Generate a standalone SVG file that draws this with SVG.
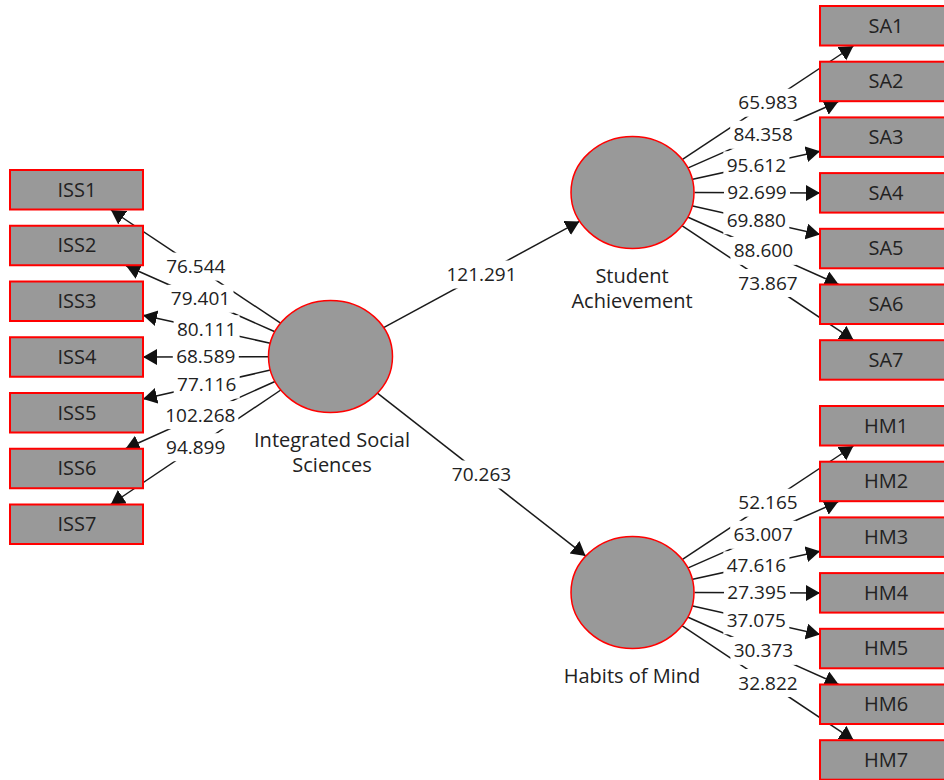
<svg xmlns="http://www.w3.org/2000/svg" width="944" height="780" viewBox="0 0 944 780">
<defs>
<marker id="arr" markerUnits="userSpaceOnUse" markerWidth="15" markerHeight="17" refX="14" refY="8" orient="auto">
<path d="M0,0 L14,8 L0,16 z" fill="#111"/>
</marker>
<style>
.c line{stroke:#1a1a1a;stroke-width:1.5;marker-end:url(#arr)}
.box{fill:#999;stroke:#f00;stroke-width:2}
.lv{fill:#999;stroke:#f00;stroke-width:1.5}
text{font-family:"Open Sans","Noto Sans","Liberation Sans",sans-serif;font-size:19px;fill:#222;text-anchor:middle}
.n{font-size:20px}
.lb rect{fill:#fff}
</style>
</defs>
<rect width="944" height="780" fill="#fff"/>
<g id="connectors" class="c">
<line x1="383.6" y1="327.6" x2="579.4" y2="221.4"/>
<line x1="377.4" y1="393.1" x2="585.6" y2="555.9"/>
<line x1="280.6" y1="323.2" x2="111" y2="210"/>
<line x1="274.9" y1="331.8" x2="126.1" y2="265.75"/>
<line x1="270.3" y1="343.2" x2="143" y2="315.2"/>
<line x1="268.5" y1="356.7" x2="143" y2="357.1"/>
<line x1="270.4" y1="370.1" x2="143" y2="399"/>
<line x1="275" y1="381.5" x2="125.5" y2="448.75"/>
<line x1="280.8" y1="390" x2="110.7" y2="504.5"/>
<line x1="682.5" y1="159.4" x2="853.4" y2="46"/>
<line x1="688.2" y1="167.9" x2="838.2" y2="101.7"/>
<line x1="692.7" y1="179.3" x2="820" y2="151.3"/>
<line x1="694.5" y1="192.5" x2="820" y2="193.1"/>
<line x1="692.7" y1="206" x2="820" y2="234.6"/>
<line x1="688.1" y1="217.3" x2="838.7" y2="284.5"/>
<line x1="682.3" y1="225.8" x2="853.6" y2="340.2"/>
<line x1="682.5" y1="559.4" x2="853.4" y2="446"/>
<line x1="688.2" y1="567.9" x2="838.2" y2="501.7"/>
<line x1="692.7" y1="579.3" x2="820" y2="551.3"/>
<line x1="694.5" y1="592.5" x2="820" y2="593.1"/>
<line x1="692.7" y1="606" x2="820" y2="634.6"/>
<line x1="688.1" y1="617.3" x2="838.7" y2="684.5"/>
<line x1="682.3" y1="625.8" x2="853.6" y2="740.2"/>
</g>
<g id="ISS"><ellipse class="lv" cx="330.5" cy="356.5" rx="62" ry="56"/><text class="n" x="332" y="447">Integrated Social</text><text class="n" x="332" y="472">Sciences</text></g>
<g id="SA"><ellipse class="lv" cx="632.5" cy="192.5" rx="61.5" ry="56"/><text class="n" x="632" y="283">Student</text><text class="n" x="632" y="308">Achievement</text></g>
<g id="HM"><ellipse class="lv" cx="632.5" cy="592.5" rx="61.5" ry="56"/><text class="n" x="632" y="683">Habits of Mind</text></g>
<g id="ISS1"><rect class="box" x="10" y="170" width="133" height="39.5"/><text class="n" x="77" y="196.5">ISS1</text></g>
<g id="ISS2"><rect class="box" x="10" y="225.75" width="133" height="39.5"/><text class="n" x="77" y="252.25">ISS2</text></g>
<g id="ISS3"><rect class="box" x="10" y="281.5" width="133" height="39.5"/><text class="n" x="77" y="308">ISS3</text></g>
<g id="ISS4"><rect class="box" x="10" y="337.25" width="133" height="39.5"/><text class="n" x="77" y="363.75">ISS4</text></g>
<g id="ISS5"><rect class="box" x="10" y="393" width="133" height="39.5"/><text class="n" x="77" y="419.5">ISS5</text></g>
<g id="ISS6"><rect class="box" x="10" y="448.75" width="133" height="39.5"/><text class="n" x="77" y="475.25">ISS6</text></g>
<g id="ISS7"><rect class="box" x="10" y="504.5" width="133" height="39.5"/><text class="n" x="77" y="531">ISS7</text></g>
<g id="SA1"><rect class="box" x="820" y="6" width="133" height="39.5"/><text class="n" x="886" y="32.5">SA1</text></g>
<g id="SA2"><rect class="box" x="820" y="61.7" width="133" height="39.5"/><text class="n" x="886" y="88.2">SA2</text></g>
<g id="SA3"><rect class="box" x="820" y="117.4" width="133" height="39.5"/><text class="n" x="886" y="143.9">SA3</text></g>
<g id="SA4"><rect class="box" x="820" y="173.1" width="133" height="39.5"/><text class="n" x="886" y="199.6">SA4</text></g>
<g id="SA5"><rect class="box" x="820" y="228.8" width="133" height="39.5"/><text class="n" x="886" y="255.3">SA5</text></g>
<g id="SA6"><rect class="box" x="820" y="284.5" width="133" height="39.5"/><text class="n" x="886" y="311">SA6</text></g>
<g id="SA7"><rect class="box" x="820" y="340.2" width="133" height="39.5"/><text class="n" x="886" y="366.7">SA7</text></g>
<g id="HM1"><rect class="box" x="820" y="406" width="133" height="39.5"/><text class="n" x="886" y="432.5">HM1</text></g>
<g id="HM2"><rect class="box" x="820" y="461.7" width="133" height="39.5"/><text class="n" x="886" y="488.2">HM2</text></g>
<g id="HM3"><rect class="box" x="820" y="517.4" width="133" height="39.5"/><text class="n" x="886" y="543.9">HM3</text></g>
<g id="HM4"><rect class="box" x="820" y="573.1" width="133" height="39.5"/><text class="n" x="886" y="599.6">HM4</text></g>
<g id="HM5"><rect class="box" x="820" y="628.8" width="133" height="39.5"/><text class="n" x="886" y="655.3">HM5</text></g>
<g id="HM6"><rect class="box" x="820" y="684.5" width="133" height="39.5"/><text class="n" x="886" y="711">HM6</text></g>
<g id="HM7"><rect class="box" x="820" y="740.2" width="133" height="39.5"/><text class="n" x="886" y="766.7">HM7</text></g>
<g id="edge-labels" class="lb">
<rect x="443.5" y="260.5" width="76" height="28"/><text x="481.5" y="281">121.291</text>
<rect x="448.5" y="460.5" width="66" height="28"/><text x="481.5" y="481">70.263</text>
<rect x="162.8" y="252.6" width="66" height="28"/><text x="195.8" y="273.1">76.544</text>
<rect x="167.5" y="284.8" width="66" height="28"/><text x="200.5" y="305.3">79.401</text>
<rect x="173.6" y="315.2" width="66" height="28"/><text x="206.6" y="335.7">80.111</text>
<rect x="172.8" y="342.9" width="66" height="28"/><text x="205.8" y="363.4">68.589</text>
<rect x="173.7" y="370.6" width="66" height="28"/><text x="206.7" y="391.1">77.116</text>
<rect x="162.3" y="401.1" width="76" height="28"/><text x="200.3" y="421.6">102.268</text>
<rect x="162.7" y="433.2" width="66" height="28"/><text x="195.7" y="453.7">94.899</text>
<rect x="735" y="88.7" width="66" height="28"/><text x="768" y="109.2">65.983</text>
<rect x="730.2" y="120.8" width="66" height="28"/><text x="763.2" y="141.3">84.358</text>
<rect x="723.4" y="151.3" width="66" height="28"/><text x="756.4" y="171.8">95.612</text>
<rect x="724" y="178.8" width="66" height="28"/><text x="757" y="199.3">92.699</text>
<rect x="723.3" y="206.3" width="66" height="28"/><text x="756.3" y="226.8">69.880</text>
<rect x="730.4" y="236.9" width="66" height="28"/><text x="763.4" y="257.4">88.600</text>
<rect x="735" y="269" width="66" height="28"/><text x="768" y="289.5">73.867</text>
<rect x="735" y="488.7" width="66" height="28"/><text x="768" y="509.2">52.165</text>
<rect x="730.2" y="520.8" width="66" height="28"/><text x="763.2" y="541.3">63.007</text>
<rect x="723.4" y="551.3" width="66" height="28"/><text x="756.4" y="571.8">47.616</text>
<rect x="724" y="578.8" width="66" height="28"/><text x="757" y="599.3">27.395</text>
<rect x="723.3" y="606.3" width="66" height="28"/><text x="756.3" y="626.8">37.075</text>
<rect x="730.4" y="636.9" width="66" height="28"/><text x="763.4" y="657.4">30.373</text>
<rect x="735" y="669" width="66" height="28"/><text x="768" y="689.5">32.822</text>
</g>
</svg>
